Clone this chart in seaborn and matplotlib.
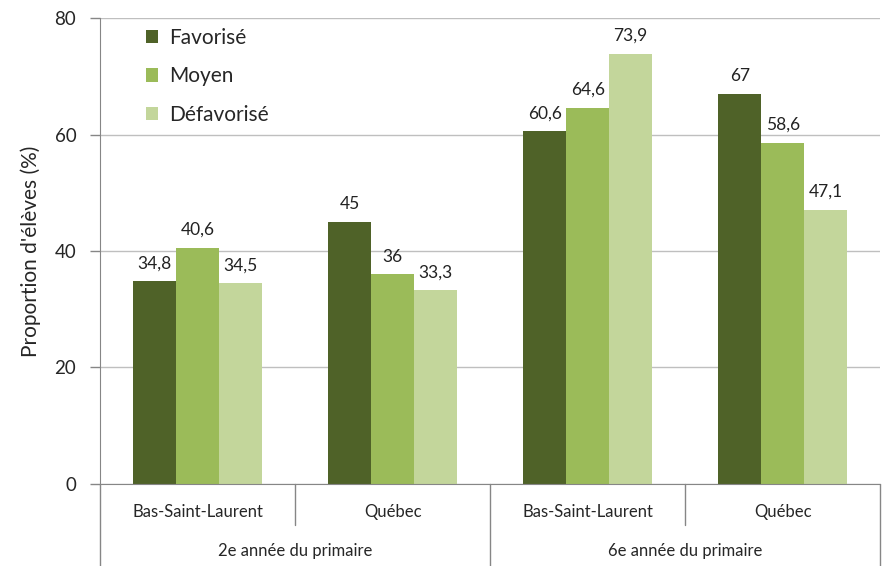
import matplotlib
matplotlib.use("Agg")
import matplotlib.pyplot as plt
import seaborn as sns
import pandas as pd

# données
niveaux = ["2e année du primaire", "6e année du primaire"]
regions = ["Bas-Saint-Laurent", "Québec"]
milieux = ["Favorisé", "Moyen", "Défavorisé"]
favorise = [34.8, 45, 60.6, 67]
moyen = [40.6, 36, 64.6, 58.6]
defavorise = [34.5, 33.3, 73.9, 47.1]
couleurs = ["#4F6228", "#9BBB59", "#C3D69B"]

cles = [f"{n}|{r}" for n in niveaux for r in regions]
rows = []
for serie, vals in zip(milieux, [favorise, moyen, defavorise]):
    for k, v in zip(cles, vals):
        rows.append({"groupe": k, "milieu": serie, "valeur": v})
df = pd.DataFrame(rows)

sns.set_style("white")
plt.rcParams["font.family"] = ["Lato", "DejaVu Sans"]

fig = plt.figure(figsize=(8.92, 5.66), dpi=100)
ax = fig.add_axes([0.112, 0.145, 0.875, 0.823])

sns.barplot(data=df, x="groupe", y="valeur", hue="milieu", order=cles,
            hue_order=milieux, palette=couleurs, saturation=1, width=0.66,
            linewidth=0, errorbar=None, ax=ax)

# étiquettes de valeurs
for cont in ax.containers:
    labels = [f"{v:g}".replace(".", ",") for v in cont.datavalues]
    ax.bar_label(cont, labels=labels, padding=7, fontsize=12.5, color="#222222")

ax.set_ylim(0, 80)
ax.set_xlim(-0.5, 3.5)
ax.set_yticks([0, 20, 40, 60, 80])
ax.yaxis.grid(True, color="#BFBFBF", linewidth=1)
ax.set_axisbelow(True)
ax.tick_params(axis="y", length=7, width=1, color="#868686", labelsize=13.5,
               direction="out", left=True, pad=10)
ax.set_ylabel("Proportion d'élèves (%)", fontsize=15, labelpad=10)
ax.set_xlabel("")
ax.set_xticks([])

for s in ["top", "right"]:
    ax.spines[s].set_visible(False)
ax.spines["left"].set_color("#868686")
ax.spines["bottom"].set_color("#868686")

# axe hiérarchique en bas
trans = ax.get_xaxis_transform()
ligne = dict(color="#868686", linewidth=1, clip_on=False, transform=trans)
for i, k in enumerate(cles):
    ax.text(i, -0.06, k.split("|")[1], ha="center", va="center",
            fontsize=12, transform=trans)
for x in [0.5, 2.5]:
    ax.plot([x, x], [0, -0.088], **ligne)
for x in [-0.5, 1.5, 3.5]:
    ax.plot([x, x], [0, -0.18], **ligne)
for j, n in enumerate(niveaux):
    ax.text(2 * j + 0.5, -0.143, n, ha="center", va="center",
            fontsize=12, transform=trans)

leg = ax.legend(loc="upper left", bbox_to_anchor=(0.035, 1.02), frameon=False,
                fontsize=15, handlelength=0.6, handleheight=0.6,
                labelspacing=0.9, handletextpad=0.5)

fig.savefig("out.png", dpi=100)
